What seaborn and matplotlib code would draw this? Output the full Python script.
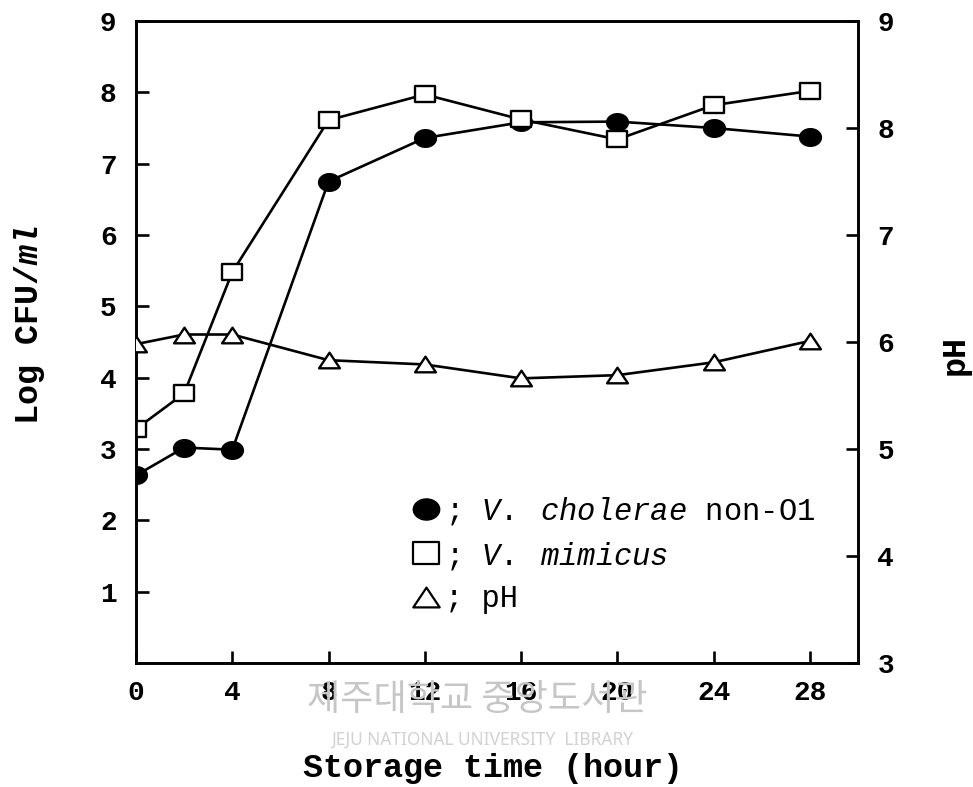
import numpy as np
import pandas as pd
import matplotlib
matplotlib.use("Agg")
import matplotlib.pyplot as plt
from matplotlib.path import Path
from matplotlib.lines import Line2D
import seaborn as sns

# Storage time (hour)
hours = [0, 2, 4, 8, 12, 16, 20, 24, 28]
# Log CFU/ml
cholerae = [2.63, 3.02, 2.99, 6.75, 7.36, 7.58, 7.59, 7.50, 7.38]
mimicus = [3.28, 3.78, 5.48, 7.61, 7.97, 7.62, 7.34, 7.82, 8.02]
# pH of the sample
ph = [5.98, 6.07, 6.07, 5.83, 5.79, 5.66, 5.69, 5.81, 6.01]

x_ticks = [0, 4, 8, 12, 16, 20, 24, 28]
left_ticks = [1, 2, 3, 4, 5, 6, 7, 8, 9]
right_ticks = [3, 4, 5, 6, 7, 8, 9]

sns.set_style("ticks")
plt.rcParams["font.family"] = ["Liberation Mono", "DejaVu Sans"]
plt.rcParams["font.weight"] = "bold"
for key in ("text.color", "axes.labelcolor", "xtick.color", "ytick.color", "axes.edgecolor"):
    plt.rcParams[key] = "black"
plt.rcParams["mathtext.fontset"] = "custom"
plt.rcParams["mathtext.rm"] = "Liberation Mono:weight=normal"
plt.rcParams["mathtext.it"] = "Liberation Mono:weight=normal:slant=italic"
plt.rcParams["mathtext.bf"] = "Liberation Mono:weight=bold"
plt.rcParams["mathtext.bfit"] = "Liberation Mono:weight=bold:slant=italic"


def squashed(verts):
    return Path(np.vstack([verts, verts[:1]]), closed=True)


t = np.linspace(0, 2 * np.pi, 60, endpoint=False)
dot = squashed(np.column_stack([np.cos(t), 0.8 * np.sin(t)]))
box = squashed(np.array([[-1, -0.83], [1, -0.83], [1, 0.83], [-1, 0.83]]))
tri = squashed(np.array([[0, 0.75], [-1, -0.75], [1, -0.75]]))

df = pd.DataFrame({"hour": hours, "cholerae": cholerae, "mimicus": mimicus, "pH": ph})

fig = plt.figure(figsize=(9.73, 7.87), dpi=100)
ax = fig.add_axes([0.1398, 0.1576, 0.742, 0.8157])
ax2 = ax.twinx()

line_kw = dict(color="black", linewidth=1.9, markeredgecolor="black", markeredgewidth=1.7)
sns.lineplot(data=df, x="hour", y="cholerae", ax=ax, marker=dot, markersize=15,
             markerfacecolor="black", zorder=3, **line_kw)
sns.lineplot(data=df, x="hour", y="mimicus", ax=ax, marker=box, markersize=14.5,
             markerfacecolor="white", zorder=4, **line_kw)
sns.lineplot(data=df, x="hour", y="pH", ax=ax2, marker=tri, markersize=15,
             markerfacecolor="white", zorder=3, **line_kw)

ax.set_xlim(0, 30)
ax.set_ylim(0, 9)
ax2.set_ylim(3, 9)
ax.set_xticks(x_ticks)
ax.set_yticks(left_ticks)
ax2.set_yticks(right_ticks)

for a in (ax, ax2):
    for s in a.spines.values():
        s.set_linewidth(1.9)
        s.set_visible(True)
    a.tick_params(direction="in", length=9, width=1.9, labelsize=20, pad=12)
ax.tick_params(axis="y", pad=14)
ax2.tick_params(axis="y", pad=14)

ax.set_xlabel("Storage time (hour)", fontsize=24, fontweight="bold")
ax.xaxis.set_label_coords(0.494, -0.14)
ax.set_ylabel(r"Log CFU/$\mathbfit{ml}$", fontsize=24, fontweight="bold")
ax.yaxis.set_label_coords(-0.124, 0.526)
ax2.set_ylabel("pH", fontsize=24, fontweight="bold", rotation=90)
ax2.yaxis.set_label_coords(1.113, 0.48)

handles = [
    Line2D([], [], linestyle="none", marker=dot, markersize=19, color="black"),
    Line2D([], [], linestyle="none", marker=box, markersize=19, markerfacecolor="white",
           markeredgecolor="black", markeredgewidth=1.6),
    Line2D([], [], linestyle="none", marker=tri, markersize=19, markerfacecolor="white",
           markeredgecolor="black", markeredgewidth=1.6),
]
labels = [r"; $\mathit{V.}$ $\mathit{cholerae}$ non-O1",
          r"; $\mathit{V.}$ $\mathit{mimicus}$",
          "; pH"]
ax.legend(handles, labels, loc="upper left", bbox_to_anchor=(0.383, 0.262),
          frameon=False, borderpad=0, borderaxespad=0, handlelength=0.9,
          handletextpad=0.15, labelspacing=0.42,
          prop={"size": 22, "weight": "normal", "family": "Liberation Mono"})

# Library watermark
fig.text(0.491, 0.110, "제주대학교 중앙도서관", fontsize=26, color="#c6c6c6",
         family=["Noto Sans CJK KR"], weight="normal", ha="center", va="center", zorder=0)
fig.text(0.496, 0.060, "JEJU NATIONAL UNIVERSITY  LIBRARY", fontsize=12.5, color="#d2d2d2",
         family=["Noto Sans"], weight="normal", ha="center", va="center", zorder=0)

fig.savefig("out.png", dpi=100)
